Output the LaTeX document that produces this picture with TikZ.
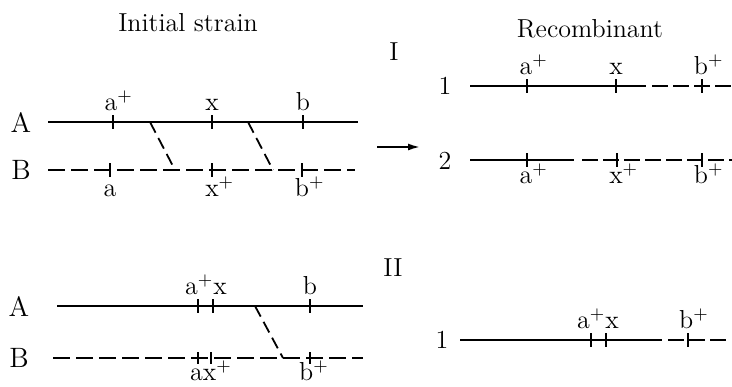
\documentclass[tikz,border=0pt]{standalone}
\usepackage{tikz}
\usepackage{amsmath}
\usetikzlibrary{arrows.meta}

\begin{document}
\begin{tikzpicture}[
    x=0.5pt, y=-0.5pt,
    every node/.style={font=\fontsize{13}{15}\selectfont, inner sep=0pt},
    strand/.style={line width=1.4pt},
    partner/.style={line width=1.4pt, dash pattern=on 8.5pt off 3pt},
    product/.style={line width=1.2pt},
    productdash/.style={line width=1.2pt, dash pattern=on 8pt off 2.5pt},
    cross/.style={line width=0.9pt, dash pattern=on 6pt off 3pt},
    marker/.style={line width=0.7pt},
    gene/.style={anchor=base},
    strainlabel/.style={font=\fontsize{14}{16}\selectfont}
]
\useasboundingbox (0,0) rectangle (732,386);

% Headings
\node[anchor=base] (initial) at (188,31) {Initial strain};
\node[anchor=base] (recomb) at (590,37) {Recombinant};
\node (caseI) at (394,52) {I};
\node (caseII) at (393,268) {II};

% ---- Case I: initial strain ----
\node[strainlabel] (labA1) at (21,122) {A};
\node[strainlabel] (labB1) at (21,170) {B};
\coordinate (A1l) at (48,122);  \coordinate (A1r) at (358,122);
\coordinate (B1l) at (48,170);  \coordinate (B1r) at (355,170);
\draw[strand] (A1l) -- (A1r);
\draw[partner] (B1l) -- (B1r);
\foreach \x in {113,212,303} \draw[marker] (\x,115) -- (\x,129);
\foreach \x in {110,212,302} \draw[marker] (\x,163) -- (\x,177);
\node[gene] (A1a) at (111,110) {a\rlap{$^+$}};
\node[gene] (A1x) at (212,110) {x};
\node[gene] (A1b) at (303,110) {b};
\node[gene] (B1a) at (110,196) {a};
\node[gene] (B1x) at (212,196) {x\rlap{$^+$}};
\node[gene] (B1b) at (302,196) {b\rlap{$^+$}};

% crossovers
\coordinate (c1top) at (150,122); \coordinate (c1bot) at (175,170);
\coordinate (c2top) at (248,122); \coordinate (c2bot) at (273,170);
\draw[cross] (c1top) -- (c1bot);
\draw[cross] (c2top) -- (c2bot);

% arrow
\coordinate (arrL) at (377,147); \coordinate (arrR) at (420,147);
\draw[line width=0.9pt, -{Latex[length=6pt, width=3.5pt]}] (arrL) -- (arrR);

% ---- Case I: recombinants ----
\node (lab1) at (445,86) {1};
\node (lab2) at (445,161) {2};
\coordinate (R1l) at (470,86); \coordinate (R1m) at (646,86); \coordinate (R1r) at (732,86);
\coordinate (R2l) at (470,160); \coordinate (R2m) at (574,160); \coordinate (R2r) at (732,160);
\draw[product] (R1l) -- (R1m);
\draw[productdash] ([xshift=3pt]R1m) -- (R1r);
\draw[product] (R2l) -- (R2m);
\draw[productdash] ([xshift=4pt]R2m) -- (R2r);
\foreach \x in {527,616,702} \draw[marker] (\x,79) -- (\x,93);
\foreach \x in {527,617,702} \draw[marker] (\x,153) -- (\x,167);
\node[gene] (R1a) at (526,74) {a\rlap{$^+$}};
\node[gene] (R1x) at (616,74) {x};
\node[gene] (R1b) at (701,74) {b\rlap{$^+$}};
\node[gene] (R2a) at (526,183) {a\rlap{$^+$}};
\node[gene] (R2x) at (616,183) {x\rlap{$^+$}};
\node[gene] (R2b) at (701,183) {b\rlap{$^+$}};

% ---- Case II: initial strain ----
\node[strainlabel] (labA2) at (19,306) {A};
\node[strainlabel] (labB2) at (19,358) {B};
\coordinate (A2l) at (57,306);  \coordinate (A2r) at (363,306);
\coordinate (B2l) at (53,358);  \coordinate (B2r) at (363,358);
\draw[strand] (A2l) -- (A2r);
\draw[partner] (B2l) -- (B2r);
\foreach \x in {198,213,310} \draw[marker] (\x,299) -- (\x,313);
\foreach \x in {198,211,310} \draw[marker] (\x,352) -- (\x,364);
\node[gene] (A2ax) at (206,294) {a$^+$x};
\node[gene] (A2b) at (310,294) {b};
\node[gene] (B2ax) at (211,380) {ax$^+$};
\node[gene] (B2b) at (314,380) {b$^+$};

% crossover
\coordinate (c3top) at (255,306); \coordinate (c3bot) at (283,358);
\draw[cross] (c3top) -- (c3bot);

% ---- Case II: recombinant ----
\node (lab3) at (442,340) {1};
\coordinate (R3l) at (460,340); \coordinate (R3m) at (662,340); \coordinate (R3r) at (726,340);
\draw[product] (R3l) -- (R3m);
\draw[productdash] ([xshift=3pt]R3m) -- (R3r);
\foreach \x in {591,606,688} \draw[marker] (\x,333) -- (\x,347);
\node[gene] (R3ax) at (598,328) {a$^+$x};
\node[gene] (R3b) at (694,328) {b$^+$};

\end{tikzpicture}
\end{document}
